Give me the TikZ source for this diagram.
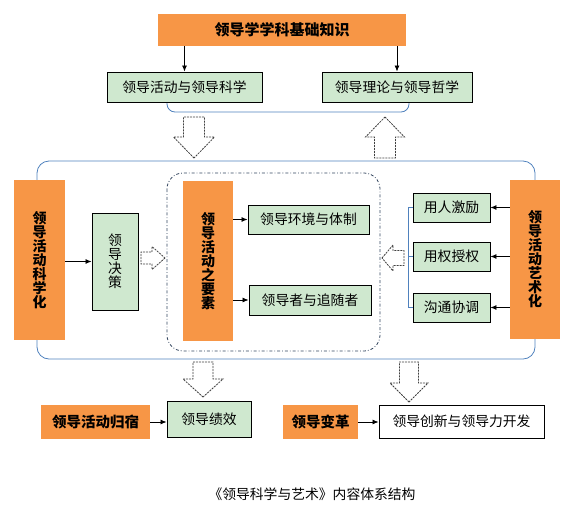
\documentclass[tikz,border=0pt]{standalone}
\usepackage{fontspec}
\setmainfont{Noto Sans CJK SC}
\usepackage{tikz}
\usetikzlibrary{arrows.meta, calc}
\definecolor{boxorange}{HTML}{F79646}
\definecolor{boxgreen}{HTML}{CFE8CF}
\definecolor{frameblue}{HTML}{4F81BD}
\definecolor{slate}{HTML}{34465F}

\tikzset{
  orangebox/.style={fill=boxorange, inner sep=0pt, font=\bfseries\fontsize{14.5}{16}\selectfont},
  greenbox/.style={draw=black, fill=boxgreen, line width=0.9pt, inner sep=0pt, font=\fontsize{13.8}{15}\selectfont},
  whitebox/.style={draw=black, fill=white, line width=0.9pt, inner sep=0pt, font=\fontsize{13.8}{15}\selectfont},
  vtext/.style={align=center, font=\bfseries\fontsize{14}{14}\selectfont},
  conn/.style={-{Latex[length=6pt,width=5pt]}, line width=0.8pt},
  blueline/.style={draw=frameblue, line width=0.8pt},
  hollow/.style={draw=black!75, line width=0.8pt, dash pattern=on 2pt off 1pt, fill=white}
}

% tip x, tip y, angle, length, shaft width, head width, head length
\newcommand{\blockarrow}[7]{%
  \draw[hollow, shift={(#1,#2)}, rotate=#3]
    (0,0) -- (-#7,#6/2) -- (-#7,#5/2) -- (-#4,#5/2) -- (-#4,-#5/2)
    -- (-#7,-#5/2) -- (-#7,-#6/2) -- cycle;}

\begin{document}
\begin{tikzpicture}[x=1pt, y=-1pt]
  \useasboundingbox (0,0) rectangle (577,512);

  % frames
  \draw[blueline, rounded corners=12pt] (37,161) rectangle (535,359);
  \draw[slate, line width=0.8pt, dash dot, rounded corners=16pt] (167,173) rectangle (380,351);
  \draw[blueline, rounded corners=8pt] (167,102) -- (167,112) -- (409,112) -- (409,102);

  % top
  \node[orangebox, minimum width=248, minimum height=32, font=\bfseries\fontsize{15}{16}\selectfont] (base) at (282,30) {领导学学科基础知识};
  \node[greenbox, minimum width=155, minimum height=30] (sci) at (184.5,87) {领导活动与领导科学};
  \node[greenbox, minimum width=150, minimum height=30] (phil) at (397,87) {领导理论与领导哲学};
  \draw[conn] (base.south -| sci.north) -- (sci.north);
  \draw[conn] (base.south -| phil.north) -- (phil.north);

  \blockarrow{194}{158}{-90}{41}{21}{41}{21}
  \blockarrow{385}{117}{90}{41}{21}{39}{20}

  % middle
  \node[orangebox, minimum width=51, minimum height=160, vtext] (sciz) at (39.5,260) {领\\导\\活\\动\\科\\学\\化};
  \node[greenbox, minimum width=46, minimum height=97, align=center, font=\fontsize{13.8}{14}\selectfont] (dec) at (115,261.5) {领\\导\\决\\策};
  \draw[conn] (sciz.east |- dec.west) -- (dec.west);
  \blockarrow{165}{258}{0}{24}{12}{23}{13}

  \node[orangebox, minimum width=50, minimum height=160, vtext] (elem) at (208,261) {领\\导\\活\\动\\之\\要\\素};
  \node[greenbox, minimum width=121, minimum height=29] (env) at (308.5,219.5) {领导环境与体制};
  \node[greenbox, minimum width=122, minimum height=30] (foll) at (310,300) {领导者与追随者};
  \draw[conn] (elem.east |- env.west) -- (env.west);
  \draw[conn] (elem.east |- foll.west) -- (foll.west);

  \blockarrow{382}{258}{180}{22}{15}{26}{11}

  \node[orangebox, minimum width=50, minimum height=159, vtext] (art) at (535,259.5) {领\\导\\活\\动\\艺\\术\\化};
  \node[greenbox, minimum width=77, minimum height=29] (use) at (451.5,207.5) {用人激励};
  \node[greenbox, minimum width=77, minimum height=29] (auth) at (451.5,256.5) {用权授权};
  \node[greenbox, minimum width=77, minimum height=29] (comm) at (451.5,307.5) {沟通协调};
  \draw[conn] (art.west |- use.east) -- (use.east);
  \draw[conn] (art.west |- auth.east) -- (auth.east);
  \draw[conn] (art.west |- comm.east) -- (comm.east);
  \draw[blueline] (use.west) -- ++(-4,0) |- (comm.west);
  \draw[blueline] (auth.west) -- ++(-4,0);

  % bottom
  \blockarrow{203}{397}{-90}{35}{20}{40}{18}
  \blockarrow{409}{402}{-90}{40}{19}{38}{19}

  \node[orangebox, minimum width=109, minimum height=34] (dest) at (95.5,422) {领导活动归宿};
  \node[greenbox, minimum width=84, minimum height=36] (perf) at (209,419) {领导绩效};
  \node[orangebox, minimum width=75, minimum height=34] (reform) at (320.5,422) {领导变革};
  \node[whitebox, minimum width=165, minimum height=33] (innov) at (461.5,421.5) {领导创新与领导力开发};
  \draw[conn] (dest.east) -- (dest.east -| perf.west);
  \draw[conn] (reform.east) -- (reform.east -| innov.west);

  \node[font=\fontsize{13.8}{15}\selectfont] (title) at (312,494) {《领导科学与艺术》内容体系结构};
\end{tikzpicture}
\end{document}
